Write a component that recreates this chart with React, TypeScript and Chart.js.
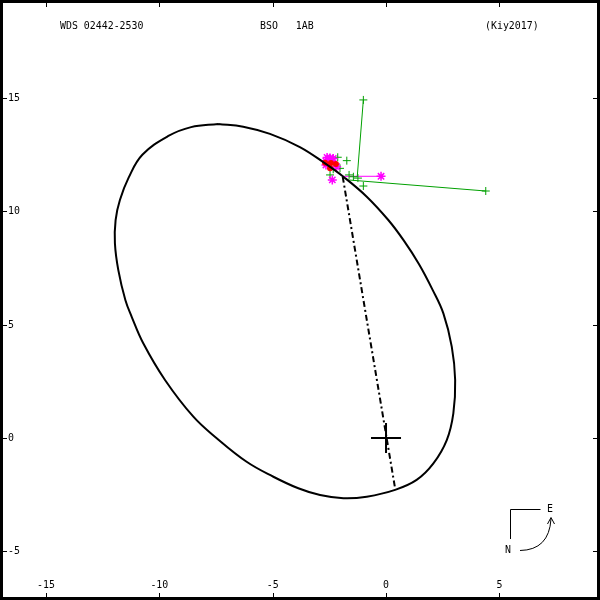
import React, { useEffect, useRef } from "react";
import { Chart, registerables } from "chart.js";

Chart.register(...registerables);

// ---- axis / labels ----
const X_TICKS = [-15, -10, -5, 0, 5];
const Y_TICKS = [15, 10, 5, 0, -5];
const X_MIN = -17.03;
const X_MAX = 9.44;
const Y_MIN = -7.15;
const Y_MAX = 19.33;
const TITLE_LEFT = "WDS 02442-2530";
const TITLE_MID = "BSO   1AB";
const TITLE_RIGHT = "(Kiy2017)";

// ---- orbit ----
const orbitX = [
  -7.4, -6.3, -5.12, -3.8, -2.69, -1.88, -0.85, 0.1, 0.78, 1.45, 2.05, 2.53, 2.9, 3.05,
  2.97, 2.68, 2.09, 1.35, 0.4, -0.85, -1.88, -2.91, -3.87, -4.97, -6.15, -7.47, -8.5,
  -9.75, -10.71, -11.22, -11.5, -11.81, -11.96, -11.93, -11.74, -11.35, -10.75, -9.6,
  -8.6, -7.4,
];
const orbitY = [
  13.86, 13.74, 13.42, 12.84, 12.12, 11.53, 10.65, 9.62, 8.72, 7.68, 6.55, 5.5, 4.03, 2.56,
  1.09, -0.09, -1.12, -1.85, -2.29, -2.59, -2.66, -2.52, -2.22, -1.71, -1.05, -0.01, 0.94,
  2.56, 4.18, 5.35, 6.09, 7.41, 8.59, 9.62, 10.5, 11.5, 12.5, 13.33, 13.72, 13.86,
];

// line through the primary (dash-dot)
const apsX = [-1.91, 0.4];
const apsY = [11.53, -2.22];

// observations
const greenX = [-1.0, 4.4, -1.73, -2.13, -1.44, -1.24, -1.0, -2.33, -2.47, -2.03, -1.63];
const greenY = [14.92, 10.9, 12.24, 12.39, 11.53, 11.47, 11.12, 11.86, 11.61, 11.9, 11.61];
const magentaX = [-2.55, -2.47, -2.65, -2.33, -2.65, -2.18, -2.37, -0.22, -2.5, -2.42, -2.6, -2.4];
const magentaY = [12.27, 12.36, 12.22, 12.34, 12.05, 11.97, 11.39, 11.55, 12.3, 12.2, 12.38, 12.25];
const redX = [-2.47, -2.21, -2.69, -2.43];
const redY = [11.9, 12.09, 12.15, 12.14];

// O-C segments: [obsX, obsY, orbitX, orbitY]
const ocGreen = [
  [-1.0, 14.92, -1.27, 11.53],
  [4.4, 10.9, -1.68, 11.39],
];
const ocMagenta = [[-0.22, 11.55, -1.9, 11.55]];

const GREEN = "#00a000";
const MAGENTA = "#ff00ff";
const RED = "#ff0000";
const FONT = '11px "DejaVu Sans Mono"';

function drawText(ctx: CanvasRenderingContext2D, t: string, x: number, y: number, align: CanvasTextAlign, base: CanvasTextBaseline) {
  ctx.save();
  ctx.translate(x, y);
  ctx.scale(0.9, 1);
  ctx.font = FONT;
  ctx.textAlign = align;
  ctx.textBaseline = base;
  ctx.fillStyle = "#000";
  ctx.fillText(t, 0, 0);
  ctx.restore();
}

const framePlugin = {
  id: "frame",
  afterDraw(chart: any) {
    const ctx: CanvasRenderingContext2D = chart.ctx;
    const xs = chart.scales.x;
    const ys = chart.scales.y;
    const W = chart.width;
    const H = chart.height;
    ctx.save();
    ctx.strokeStyle = "#000";
    ctx.lineWidth = 3;
    ctx.strokeRect(1.5, 1.5, W - 3, H - 3);
    ctx.lineWidth = 1;
    ctx.beginPath();
    X_TICKS.forEach((v) => {
      const px = Math.round(xs.getPixelForValue(v)) + 0.5;
      ctx.moveTo(px, 3);
      ctx.lineTo(px, 7);
      ctx.moveTo(px, H - 3);
      ctx.lineTo(px, H - 7);
    });
    Y_TICKS.forEach((v) => {
      const py = Math.round(ys.getPixelForValue(v)) + 0.5;
      ctx.moveTo(3, py);
      ctx.lineTo(7, py);
      ctx.moveTo(W - 3, py);
      ctx.lineTo(W - 7, py);
    });
    ctx.stroke();
    X_TICKS.forEach((v) => {
      drawText(ctx, String(v), xs.getPixelForValue(v), H - 12, "center", "alphabetic");
    });
    Y_TICKS.forEach((v) => {
      drawText(ctx, String(v), 8, ys.getPixelForValue(v), "left", "middle");
    });
    drawText(ctx, TITLE_LEFT, 60, 29, "left", "alphabetic");
    drawText(ctx, TITLE_MID, 260, 29, "left", "alphabetic");
    drawText(ctx, TITLE_RIGHT, 485, 29, "left", "alphabetic");

    // compass
    ctx.lineWidth = 1;
    ctx.beginPath();
    ctx.moveTo(540.5, 509.5);
    ctx.lineTo(510.5, 509.5);
    ctx.lineTo(510.5, 539);
    ctx.stroke();
    ctx.beginPath();
    ctx.moveTo(520, 550.5);
    ctx.quadraticCurveTo(549, 550, 551, 519);
    ctx.stroke();
    ctx.beginPath();
    ctx.moveTo(547.5, 524);
    ctx.lineTo(551, 517.5);
    ctx.lineTo(554.5, 524);
    ctx.stroke();
    drawText(ctx, "E", 550, 509.5, "center", "middle");
    drawText(ctx, "N", 508, 550.5, "center", "middle");
    ctx.restore();
  },
};

const pts = (xs: number[], ys: number[]) => xs.map((x, i) => ({ x, y: ys[i] }));

export default function App() {
  const ref = useRef<HTMLCanvasElement>(null);
  useEffect(() => {
    if (!ref.current) return;
    const segDatasets = (segs: number[][], color: string) =>
      segs.map((s) => ({
        type: "line" as const,
        data: [
          { x: s[0], y: s[1] },
          { x: s[2], y: s[3] },
        ],
        borderColor: color,
        borderWidth: 1,
        pointRadius: 0,
        fill: false,
        order: 5,
      }));
    const chart = new Chart(ref.current, {
      type: "scatter",
      data: {
        datasets: [
          ...segDatasets(ocGreen, GREEN),
          ...segDatasets(ocMagenta, MAGENTA),
          {
            data: pts(greenX, greenY),
            pointStyle: "cross",
            pointRadius: 4,
            borderColor: GREEN,
            backgroundColor: GREEN,
            borderWidth: 1,
            order: 4,
          },
          {
            data: pts(magentaX, magentaY),
            pointStyle: "star",
            pointRadius: 4.5,
            borderColor: MAGENTA,
            backgroundColor: MAGENTA,
            borderWidth: 1.5,
            order: 3,
          },
          {
            data: pts(redX, redY),
            pointStyle: "circle",
            pointRadius: 3,
            borderColor: RED,
            backgroundColor: RED,
            borderWidth: 0,
            order: 2,
          },
          {
            type: "line" as const,
            data: pts(orbitX, orbitY),
            borderColor: "#000",
            borderWidth: 2,
            pointRadius: 0,
            tension: 0.4,
            fill: false,
            order: 1,
          },
          {
            type: "line" as const,
            data: pts(apsX, apsY),
            borderColor: "#000",
            borderWidth: 2,
            borderDash: [6, 3, 2, 3],
            pointRadius: 0,
            fill: false,
            order: 1,
          },
          {
            data: [{ x: 0, y: 0 }],
            pointStyle: "cross",
            pointRadius: 15,
            borderColor: "#000",
            borderWidth: 2,
            order: 0,
          },
        ] as any,
      },
      options: {
        responsive: false,
        animation: false,
        layout: { padding: 0, autoPadding: false },
        plugins: { legend: { display: false }, tooltip: { enabled: false } },
        scales: {
          x: { type: "linear", min: X_MIN, max: X_MAX, display: false },
          y: { type: "linear", min: Y_MIN, max: Y_MAX, display: false },
        },
      },
      plugins: [framePlugin],
    });
    return () => chart.destroy();
  }, []);
  return (
    <div style={{ position: "fixed", left: 0, top: 0, width: 600, height: 600, background: "#fff" }}>
      <canvas ref={ref} width={600} height={600} />
    </div>
  );
}
